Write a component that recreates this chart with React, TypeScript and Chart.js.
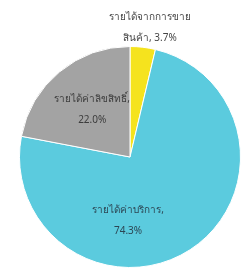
import React, { useEffect, useRef } from "react";
import { Chart, registerables } from "chart.js";

Chart.register(...registerables);

const categories = ["รายได้จากการขาย สินค้า", "รายได้ค่าบริการ", "รายได้ค่าลิขสิทธิ์"];
const values = [3.7, 74.3, 22.0];
const labelLines = [
  ["รายได้จากการขาย", "สินค้า, 3.7%"],
  ["รายได้ค่าบริการ,", "74.3%"],
  ["รายได้ค่าลิขสิทธิ์,", "22.0%"],
];
const colors = ["#F5E31E", "#5BCBDE", "#A3A3A3"];
const textColors = ["#454545", "#2C4654", "#3C3C3C"];

// label placement relative to pie centre, in units of the radius
const labelOffsets = [
  [0.18, -1.167],
  [-0.018, 0.577],
  [-0.342, -0.428],
];

const labelPlugin = {
  id: "sliceLabels",
  afterDatasetsDraw(chart: any) {
    const ctx = chart.ctx;
    const meta = chart.getDatasetMeta(0);
    ctx.save();
    ctx.textAlign = "center";
    ctx.textBaseline = "middle";
    ctx.font = "10px 'Noto Sans', 'DejaVu Sans', sans-serif";
    meta.data.forEach((arc: any, i: number) => {
      const p = arc.getProps(["x", "y", "outerRadius"], true);
      const cx = p.x + labelOffsets[i][0] * p.outerRadius;
      const cy = p.y + labelOffsets[i][1] * p.outerRadius;
      ctx.fillStyle = textColors[i];
      const lines = labelLines[i];
      const lh = 21;
      lines.forEach((line, j) => {
        ctx.fillText(line, cx, cy + (j - (lines.length - 1) / 2) * lh);
      });
    });
    ctx.restore();
  },
};

export default function App() {
  const ref = useRef<HTMLCanvasElement>(null);
  useEffect(() => {
    if (!ref.current) return;
    const chart = new Chart(ref.current, {
      type: "pie",
      data: {
        labels: categories,
        datasets: [
          {
            data: values,
            backgroundColor: colors,
            borderColor: "#ffffff",
            borderWidth: 1,
          },
        ],
      },
      options: {
        animation: false,
        responsive: false,
        maintainAspectRatio: false,
        layout: { padding: { left: 18, right: 5, top: 46, bottom: 0 } },
        plugins: {
          legend: { display: false },
          tooltip: { enabled: false },
          title: { display: false },
        },
      },
      plugins: [labelPlugin],
    });
    return () => chart.destroy();
  }, []);
  return (
    <div style={{ position: "fixed", left: 0, top: 0, width: 247, height: 268, background: "#fff" }}>
      <canvas ref={ref} width={247} height={268} style={{ width: 247, height: 268 }} />
    </div>
  );
}
